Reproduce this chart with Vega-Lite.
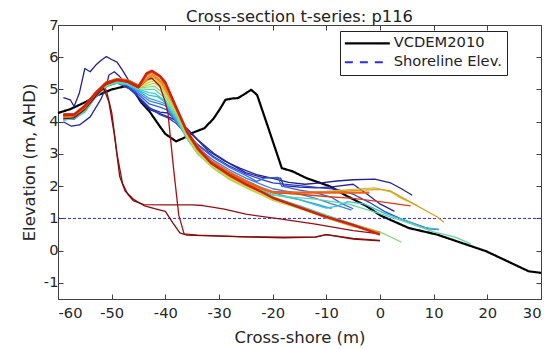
{
"$schema":"https://vega.github.io/schema/vega-lite/v6.json",
"width":483,"height":274,
"autosize":{"type":"none"},
"padding":{"left":58,"top":25,"right":11,"bottom":50},
"background":"white",
"title":{"text":"Cross-section t-series: p116","font":"DejaVu Sans","fontSize":16.3,"fontWeight":"normal","color":"#222222","anchor":"middle","offset":-8},
"config":{
 "view":{"stroke":"#404040","strokeWidth":1},
 "axis":{"labelFont":"DejaVu Sans","labelFontSize":14.7,"labelColor":"#262626","titleFont":"DejaVu Sans","titleFontSize":16.5,"titleFontWeight":"normal","titleColor":"#262626","tickColor":"#404040","tickSize":-5,"domain":false,"grid":false,"labelPadding":6},
 "legend":{"labelFont":"DejaVu Sans","labelFontSize":14.7,"labelColor":"#222222","orient":"none","legendX":282,"legendY":6,"strokeColor":"#222222","fillColor":"white","padding":5,"symbolSize":225,"labelOffset":34,"rowPadding":3}
},
"datasets":{
"ref":[
{"s":"VCDEM2010","x":-60,"y":4.27},{"s":"VCDEM2010","x":-57.7,"y":4.39},{"s":"VCDEM2010","x":-55,"y":4.6},{"s":"VCDEM2010","x":-52.5,"y":4.83},{"s":"VCDEM2010","x":-50,"y":5.0},{"s":"VCDEM2010","x":-47.5,"y":5.1},{"s":"VCDEM2010","x":-46,"y":5.0},{"s":"VCDEM2010","x":-44.5,"y":4.6},{"s":"VCDEM2010","x":-43,"y":4.33},{"s":"VCDEM2010","x":-41,"y":3.85},{"s":"VCDEM2010","x":-40,"y":3.62},{"s":"VCDEM2010","x":-38,"y":3.39},{"s":"VCDEM2010","x":-36.5,"y":3.5},{"s":"VCDEM2010","x":-35,"y":3.65},{"s":"VCDEM2010","x":-32.7,"y":3.8},{"s":"VCDEM2010","x":-31,"y":4.1},{"s":"VCDEM2010","x":-29.8,"y":4.4},{"s":"VCDEM2010","x":-28.8,"y":4.68},{"s":"VCDEM2010","x":-27.5,"y":4.72},{"s":"VCDEM2010","x":-26.5,"y":4.73},{"s":"VCDEM2010","x":-25.5,"y":4.83},{"s":"VCDEM2010","x":-24,"y":4.99},{"s":"VCDEM2010","x":-22.9,"y":4.83},{"s":"VCDEM2010","x":-20.9,"y":3.85},{"s":"VCDEM2010","x":-18.3,"y":2.56},{"s":"VCDEM2010","x":-16.3,"y":2.46},{"s":"VCDEM2010","x":-13.7,"y":2.25},{"s":"VCDEM2010","x":-9.4,"y":2.0},{"s":"VCDEM2010","x":-6.1,"y":1.69},{"s":"VCDEM2010","x":-2.5,"y":1.38},{"s":"VCDEM2010","x":0.1,"y":1.09},{"s":"VCDEM2010","x":5.4,"y":0.7},{"s":"VCDEM2010","x":10.6,"y":0.5},{"s":"VCDEM2010","x":15.2,"y":0.24},{"s":"VCDEM2010","x":19.8,"y":-0.02},{"s":"VCDEM2010","x":24.4,"y":-0.38},{"s":"VCDEM2010","x":27.7,"y":-0.64},{"s":"VCDEM2010","x":30,"y":-0.69},
{"s":"Shoreline Elev.","x":-60,"y":1},{"s":"Shoreline Elev.","x":30,"y":1}
],
"prof":[
{"s":"p01","x":-59,"y":4.75},{"s":"p01","x":-57.7,"y":4.68},{"s":"p01","x":-57,"y":4.47},{"s":"p01","x":-56,"y":4.9},{"s":"p01","x":-55,"y":5.65},{"s":"p01","x":-54,"y":5.55},{"s":"p01","x":-53,"y":5.75},{"s":"p01","x":-52,"y":5.9},{"s":"p01","x":-51,"y":6.02},{"s":"p01","x":-50,"y":5.93},{"s":"p01","x":-49,"y":5.85},{"s":"p01","x":-48,"y":5.6},{"s":"p01","x":-46,"y":5.05},{"s":"p01","x":-44.5,"y":4.62},{"s":"p01","x":-43,"y":4.38},{"s":"p01","x":-41,"y":4.25},{"s":"p01","x":-39,"y":4.12},{"s":"p01","x":-37,"y":3.95},{"s":"p01","x":-35,"y":3.6},{"s":"p01","x":-32,"y":3.1},{"s":"p01","x":-29,"y":2.78},{"s":"p01","x":-26,"y":2.55},{"s":"p01","x":-23,"y":2.36},{"s":"p01","x":-20,"y":2.24},{"s":"p01","x":-17,"y":2.12},{"s":"p01","x":-14,"y":2.06},{"s":"p01","x":-11,"y":2.1},{"s":"p01","x":-8,"y":2.16},{"s":"p01","x":-5,"y":2.2},{"s":"p01","x":-1,"y":2.22},{"s":"p01","x":2,"y":2.1},{"s":"p01","x":4,"y":1.92},{"s":"p01","x":6,"y":1.72},
{"s":"p02","x":-59,"y":4.0},{"s":"p02","x":-57.5,"y":3.86},{"s":"p02","x":-56,"y":3.9},{"s":"p02","x":-54,"y":4.15},{"s":"p02","x":-52,"y":4.7},{"s":"p02","x":-51,"y":5.1},{"s":"p02","x":-50.5,"y":5.45},{"s":"p02","x":-49.5,"y":5.55},{"s":"p02","x":-48.5,"y":5.4},{"s":"p02","x":-47,"y":5.1},{"s":"p02","x":-45,"y":4.75},{"s":"p02","x":-43,"y":4.42},{"s":"p02","x":-41,"y":4.3},{"s":"p02","x":-39.5,"y":4.27},{"s":"p02","x":-38,"y":4.05},{"s":"p02","x":-36,"y":3.8},{"s":"p02","x":-34,"y":3.45},{"s":"p02","x":-31,"y":3.02},{"s":"p02","x":-28,"y":2.7},{"s":"p02","x":-25,"y":2.42},{"s":"p02","x":-22,"y":2.27},{"s":"p02","x":-20,"y":2.26},{"s":"p02","x":-18.5,"y":2.25},{"s":"p02","x":-18,"y":2.02},{"s":"p02","x":-15,"y":1.97},{"s":"p02","x":-12,"y":1.95},{"s":"p02","x":-9,"y":1.98},{"s":"p02","x":-5,"y":2.06},{"s":"p02","x":-2,"y":1.7},{"s":"p02","x":0,"y":1.45},{"s":"p02","x":2.7,"y":1.22},
{"s":"p03","x":-59,"y":4.1},{"s":"p03","x":-57,"y":4.08},{"s":"p03","x":-55,"y":4.35},{"s":"p03","x":-53,"y":4.8},{"s":"p03","x":-51,"y":5.12},{"s":"p03","x":-49,"y":5.2},{"s":"p03","x":-47,"y":5.05},{"s":"p03","x":-45,"y":4.78},{"s":"p03","x":-43,"y":4.45},{"s":"p03","x":-41,"y":4.22},{"s":"p03","x":-39.5,"y":4.12},{"s":"p03","x":-38,"y":3.95},{"s":"p03","x":-36,"y":3.6},{"s":"p03","x":-34,"y":3.3},{"s":"p03","x":-31,"y":2.92},{"s":"p03","x":-28,"y":2.62},{"s":"p03","x":-25,"y":2.38},{"s":"p03","x":-22,"y":2.2},{"s":"p03","x":-20,"y":2.1},{"s":"p03","x":-17,"y":2.05},{"s":"p03","x":-14,"y":2.0},{"s":"p03","x":-11,"y":1.95},{"s":"p03","x":-8,"y":1.9},{"s":"p03","x":-5,"y":1.75},{"s":"p03","x":-2,"y":1.5},{"s":"p03","x":1,"y":1.2},{"s":"p03","x":4,"y":0.98},{"s":"p03","x":7,"y":0.8},{"s":"p03","x":9,"y":0.68},{"s":"p03","x":11,"y":0.65},
{"s":"p04","x":-59,"y":4.2},{"s":"p04","x":-57,"y":4.12},{"s":"p04","x":-55,"y":4.4},{"s":"p04","x":-53,"y":4.88},{"s":"p04","x":-51,"y":5.18},{"s":"p04","x":-49,"y":5.25},{"s":"p04","x":-47,"y":5.1},{"s":"p04","x":-45,"y":4.85},{"s":"p04","x":-43,"y":4.55},{"s":"p04","x":-41,"y":4.45},{"s":"p04","x":-39.5,"y":4.35},{"s":"p04","x":-38,"y":4.02},{"s":"p04","x":-36,"y":3.62},{"s":"p04","x":-34,"y":3.28},{"s":"p04","x":-31,"y":2.88},{"s":"p04","x":-28,"y":2.58},{"s":"p04","x":-25,"y":2.33},{"s":"p04","x":-23,"y":2.15},{"s":"p04","x":-21.5,"y":2.25},{"s":"p04","x":-19,"y":2.27},{"s":"p04","x":-18.3,"y":2.0},{"s":"p04","x":-15,"y":1.88},{"s":"p04","x":-12,"y":1.8},{"s":"p04","x":-9,"y":1.65},{"s":"p04","x":-7,"y":1.45},{"s":"p04","x":-5,"y":1.3},
{"s":"p05","x":-59,"y":4.15},{"s":"p05","x":-57,"y":4.1},{"s":"p05","x":-55,"y":4.35},{"s":"p05","x":-53,"y":4.85},{"s":"p05","x":-51,"y":5.15},{"s":"p05","x":-49,"y":5.25},{"s":"p05","x":-47,"y":5.15},{"s":"p05","x":-45,"y":4.9},{"s":"p05","x":-43,"y":4.65},{"s":"p05","x":-41,"y":4.55},{"s":"p05","x":-40,"y":4.5},{"s":"p05","x":-38,"y":4.0},{"s":"p05","x":-36,"y":3.55},{"s":"p05","x":-34,"y":3.2},{"s":"p05","x":-31,"y":2.8},{"s":"p05","x":-28,"y":2.5},{"s":"p05","x":-25,"y":2.25},{"s":"p05","x":-22,"y":2.05},{"s":"p05","x":-20,"y":1.92},{"s":"p05","x":-16,"y":1.8},{"s":"p05","x":-12,"y":1.62},{"s":"p05","x":-9,"y":1.45},{"s":"p05","x":-7,"y":1.35},{"s":"p05","x":-5.3,"y":1.26},
{"s":"p06","x":-59,"y":4.05},{"s":"p06","x":-57,"y":4.1},{"s":"p06","x":-55,"y":4.3},{"s":"p06","x":-53,"y":4.8},{"s":"p06","x":-51,"y":5.12},{"s":"p06","x":-49,"y":5.22},{"s":"p06","x":-47,"y":5.15},{"s":"p06","x":-45,"y":4.95},{"s":"p06","x":-43,"y":4.72},{"s":"p06","x":-41.5,"y":4.65},{"s":"p06","x":-40,"y":4.55},{"s":"p06","x":-38,"y":4.05},{"s":"p06","x":-36,"y":3.5},{"s":"p06","x":-34,"y":3.12},{"s":"p06","x":-31,"y":2.72},{"s":"p06","x":-28,"y":2.42},{"s":"p06","x":-25,"y":2.18},{"s":"p06","x":-22,"y":1.95},{"s":"p06","x":-20,"y":1.8},{"s":"p06","x":-16,"y":1.62},{"s":"p06","x":-12,"y":1.45},{"s":"p06","x":-9,"y":1.3},
{"s":"p07","x":-59,"y":4.1},{"s":"p07","x":-57,"y":4.12},{"s":"p07","x":-55,"y":4.32},{"s":"p07","x":-53,"y":4.78},{"s":"p07","x":-51,"y":5.1},{"s":"p07","x":-49,"y":5.2},{"s":"p07","x":-47,"y":5.15},{"s":"p07","x":-45,"y":4.98},{"s":"p07","x":-43,"y":4.82},{"s":"p07","x":-41.5,"y":4.78},{"s":"p07","x":-40,"y":4.6},{"s":"p07","x":-38,"y":4.1},{"s":"p07","x":-36,"y":3.5},{"s":"p07","x":-34,"y":3.08},{"s":"p07","x":-31,"y":2.68},{"s":"p07","x":-28,"y":2.38},{"s":"p07","x":-25,"y":2.12},{"s":"p07","x":-22,"y":1.88},{"s":"p07","x":-20,"y":1.74},{"s":"p07","x":-15,"y":1.58},{"s":"p07","x":-12,"y":1.42},{"s":"p07","x":-10,"y":1.32},{"s":"p07","x":-8,"y":1.38},{"s":"p07","x":-6,"y":1.52},{"s":"p07","x":-3,"y":1.45},{"s":"p07","x":1,"y":1.15},{"s":"p07","x":5,"y":0.92},{"s":"p07","x":8,"y":0.72},{"s":"p07","x":11,"y":0.66},
{"s":"p08","x":-59,"y":4.05},{"s":"p08","x":-57,"y":4.1},{"s":"p08","x":-55,"y":4.3},{"s":"p08","x":-53,"y":4.75},{"s":"p08","x":-51,"y":5.08},{"s":"p08","x":-49,"y":5.2},{"s":"p08","x":-47,"y":5.15},{"s":"p08","x":-45,"y":5.0},{"s":"p08","x":-43,"y":4.9},{"s":"p08","x":-42,"y":4.88},{"s":"p08","x":-40.5,"y":4.7},{"s":"p08","x":-38,"y":4.15},{"s":"p08","x":-36,"y":3.48},{"s":"p08","x":-34,"y":3.02},{"s":"p08","x":-31,"y":2.6},{"s":"p08","x":-28,"y":2.3},{"s":"p08","x":-25,"y":2.05},{"s":"p08","x":-22,"y":1.82},{"s":"p08","x":-20,"y":1.66},{"s":"p08","x":-15,"y":1.4},{"s":"p08","x":-10,"y":1.1},{"s":"p08","x":-5,"y":0.82},{"s":"p08","x":-1,"y":0.62},
{"s":"p09","x":-59,"y":4.1},{"s":"p09","x":-57,"y":4.15},{"s":"p09","x":-55,"y":4.35},{"s":"p09","x":-53,"y":4.8},{"s":"p09","x":-51,"y":5.1},{"s":"p09","x":-49,"y":5.25},{"s":"p09","x":-47,"y":5.18},{"s":"p09","x":-45,"y":5.02},{"s":"p09","x":-43,"y":5.0},{"s":"p09","x":-42,"y":5.0},{"s":"p09","x":-40.5,"y":4.8},{"s":"p09","x":-38,"y":4.2},{"s":"p09","x":-36,"y":3.5},{"s":"p09","x":-34,"y":3.02},{"s":"p09","x":-31,"y":2.6},{"s":"p09","x":-28,"y":2.28},{"s":"p09","x":-25,"y":2.02},{"s":"p09","x":-22,"y":1.82},{"s":"p09","x":-20,"y":1.72},{"s":"p09","x":-16,"y":1.65},{"s":"p09","x":-12,"y":1.6},{"s":"p09","x":-6,"y":1.45},{"s":"p09","x":0,"y":1.15},{"s":"p09","x":5,"y":0.88},{"s":"p09","x":10,"y":0.58},{"s":"p09","x":14,"y":0.42},{"s":"p09","x":17,"y":0.2},
{"s":"p10","x":-59,"y":4.12},{"s":"p10","x":-57,"y":4.15},{"s":"p10","x":-55,"y":4.38},{"s":"p10","x":-53,"y":4.8},{"s":"p10","x":-51,"y":5.12},{"s":"p10","x":-49,"y":5.25},{"s":"p10","x":-47,"y":5.2},{"s":"p10","x":-45,"y":5.05},{"s":"p10","x":-43,"y":5.08},{"s":"p10","x":-42,"y":5.1},{"s":"p10","x":-40.5,"y":4.9},{"s":"p10","x":-38,"y":4.25},{"s":"p10","x":-36,"y":3.52},{"s":"p10","x":-34,"y":3.0},{"s":"p10","x":-31,"y":2.55},{"s":"p10","x":-28,"y":2.22},{"s":"p10","x":-25,"y":1.98},{"s":"p10","x":-22,"y":1.76},{"s":"p10","x":-20,"y":1.6},{"s":"p10","x":-15,"y":1.35},{"s":"p10","x":-10,"y":1.08},{"s":"p10","x":-5,"y":0.82},{"s":"p10","x":0,"y":0.58},{"s":"p10","x":4,"y":0.26},
{"s":"p11","x":-59,"y":4.15},{"s":"p11","x":-57,"y":4.18},{"s":"p11","x":-55,"y":4.4},{"s":"p11","x":-53,"y":4.82},{"s":"p11","x":-51,"y":5.15},{"s":"p11","x":-49,"y":5.28},{"s":"p11","x":-47,"y":5.22},{"s":"p11","x":-45,"y":5.05},{"s":"p11","x":-43,"y":5.15},{"s":"p11","x":-42,"y":5.2},{"s":"p11","x":-40.5,"y":5.0},{"s":"p11","x":-38,"y":4.3},{"s":"p11","x":-36,"y":3.55},{"s":"p11","x":-34,"y":3.02},{"s":"p11","x":-31,"y":2.55},{"s":"p11","x":-28,"y":2.2},{"s":"p11","x":-25,"y":1.95},{"s":"p11","x":-22,"y":1.72},{"s":"p11","x":-20,"y":1.56},{"s":"p11","x":-15,"y":1.3},{"s":"p11","x":-10,"y":1.02},{"s":"p11","x":-5,"y":0.77},{"s":"p11","x":0,"y":0.52},
{"s":"p12","x":-59,"y":4.12},{"s":"p12","x":-57,"y":4.18},{"s":"p12","x":-55,"y":4.42},{"s":"p12","x":-53,"y":4.85},{"s":"p12","x":-51,"y":5.15},{"s":"p12","x":-49,"y":5.3},{"s":"p12","x":-47,"y":5.25},{"s":"p12","x":-45,"y":5.08},{"s":"p12","x":-43,"y":5.22},{"s":"p12","x":-42,"y":5.28},{"s":"p12","x":-40.5,"y":5.05},{"s":"p12","x":-38,"y":4.35},{"s":"p12","x":-36,"y":3.6},{"s":"p12","x":-34,"y":3.05},{"s":"p12","x":-31,"y":2.6},{"s":"p12","x":-28,"y":2.25},{"s":"p12","x":-25,"y":1.98},{"s":"p12","x":-22,"y":1.75},{"s":"p12","x":-20,"y":1.6},{"s":"p12","x":-15,"y":1.36},{"s":"p12","x":-10,"y":1.06},{"s":"p12","x":-5,"y":0.8},{"s":"p12","x":-1,"y":0.62},
{"s":"p13","x":-59,"y":4.2},{"s":"p13","x":-57,"y":4.2},{"s":"p13","x":-55,"y":4.45},{"s":"p13","x":-53,"y":4.88},{"s":"p13","x":-51,"y":5.18},{"s":"p13","x":-49,"y":5.32},{"s":"p13","x":-47,"y":5.28},{"s":"p13","x":-45,"y":5.1},{"s":"p13","x":-43,"y":5.3},{"s":"p13","x":-42,"y":5.35},{"s":"p13","x":-40.5,"y":5.1},{"s":"p13","x":-38,"y":4.4},{"s":"p13","x":-36,"y":3.65},{"s":"p13","x":-34,"y":3.15},{"s":"p13","x":-31,"y":2.7},{"s":"p13","x":-28,"y":2.38},{"s":"p13","x":-25,"y":2.1},{"s":"p13","x":-22,"y":1.9},{"s":"p13","x":-20,"y":1.8},{"s":"p13","x":-15,"y":1.8},{"s":"p13","x":-10,"y":1.84},{"s":"p13","x":-5,"y":1.9},{"s":"p13","x":-1,"y":1.95},{"s":"p13","x":2,"y":1.82},{"s":"p13","x":4,"y":1.62},{"s":"p13","x":7,"y":1.4},
{"s":"p14","x":-59,"y":4.2},{"s":"p14","x":-57,"y":4.22},{"s":"p14","x":-55,"y":4.48},{"s":"p14","x":-53,"y":4.9},{"s":"p14","x":-51,"y":5.2},{"s":"p14","x":-49,"y":5.32},{"s":"p14","x":-47,"y":5.28},{"s":"p14","x":-45,"y":5.12},{"s":"p14","x":-43,"y":5.35},{"s":"p14","x":-42,"y":5.4},{"s":"p14","x":-40.5,"y":5.15},{"s":"p14","x":-38,"y":4.42},{"s":"p14","x":-36,"y":3.68},{"s":"p14","x":-34,"y":3.18},{"s":"p14","x":-31,"y":2.72},{"s":"p14","x":-28,"y":2.4},{"s":"p14","x":-25,"y":2.12},{"s":"p14","x":-22,"y":1.92},{"s":"p14","x":-20,"y":1.82},{"s":"p14","x":-15,"y":1.8},{"s":"p14","x":-10,"y":1.82},{"s":"p14","x":-5,"y":1.86},{"s":"p14","x":0,"y":1.9},{"s":"p14","x":2,"y":1.85},{"s":"p14","x":4,"y":1.66},{"s":"p14","x":6.6,"y":1.42},{"s":"p14","x":9,"y":1.2},{"s":"p14","x":10.6,"y":1.05},{"s":"p14","x":11.9,"y":0.88},
{"s":"p15","x":-59,"y":4.15},{"s":"p15","x":-57,"y":4.2},{"s":"p15","x":-55,"y":4.45},{"s":"p15","x":-53,"y":4.88},{"s":"p15","x":-51,"y":5.2},{"s":"p15","x":-49,"y":5.32},{"s":"p15","x":-47,"y":5.28},{"s":"p15","x":-45,"y":5.1},{"s":"p15","x":-43,"y":5.4},{"s":"p15","x":-42.3,"y":5.45},{"s":"p15","x":-40.5,"y":5.2},{"s":"p15","x":-38,"y":4.42},{"s":"p15","x":-36,"y":3.68},{"s":"p15","x":-34,"y":3.15},{"s":"p15","x":-31,"y":2.68},{"s":"p15","x":-28,"y":2.32},{"s":"p15","x":-25,"y":2.05},{"s":"p15","x":-22,"y":1.82},{"s":"p15","x":-20,"y":1.65},{"s":"p15","x":-15,"y":1.34},{"s":"p15","x":-10,"y":1.03},{"s":"p15","x":-5,"y":0.77},{"s":"p15","x":0,"y":0.55},
{"s":"p16","x":-59,"y":4.2},{"s":"p16","x":-57,"y":4.22},{"s":"p16","x":-55,"y":4.5},{"s":"p16","x":-53,"y":4.9},{"s":"p16","x":-51,"y":5.22},{"s":"p16","x":-49,"y":5.32},{"s":"p16","x":-47,"y":5.28},{"s":"p16","x":-45,"y":5.12},{"s":"p16","x":-43.5,"y":5.45},{"s":"p16","x":-42.5,"y":5.55},{"s":"p16","x":-41,"y":5.4},{"s":"p16","x":-40,"y":5.2},{"s":"p16","x":-38,"y":4.45},{"s":"p16","x":-36,"y":3.72},{"s":"p16","x":-34,"y":3.22},{"s":"p16","x":-31.5,"y":2.78},{"s":"p16","x":-28,"y":2.42},{"s":"p16","x":-25,"y":2.15},{"s":"p16","x":-22,"y":1.93},{"s":"p16","x":-20,"y":1.82},{"s":"p16","x":-15,"y":1.8},{"s":"p16","x":-10,"y":1.8},{"s":"p16","x":-5,"y":1.8},{"s":"p16","x":-2,"y":1.8},
{"s":"p17","x":-59,"y":4.25},{"s":"p17","x":-57,"y":4.25},{"s":"p17","x":-55,"y":4.5},{"s":"p17","x":-53,"y":4.9},{"s":"p17","x":-51,"y":5.2},{"s":"p17","x":-49,"y":5.3},{"s":"p17","x":-47,"y":5.25},{"s":"p17","x":-45,"y":5.1},{"s":"p17","x":-43.5,"y":5.45},{"s":"p17","x":-42.5,"y":5.55},{"s":"p17","x":-41,"y":5.38},{"s":"p17","x":-40,"y":5.15},{"s":"p17","x":-38,"y":4.4},{"s":"p17","x":-36,"y":3.7},{"s":"p17","x":-34,"y":3.2},{"s":"p17","x":-31.5,"y":2.76},{"s":"p17","x":-28,"y":2.4},{"s":"p17","x":-25,"y":2.13},{"s":"p17","x":-22,"y":1.92},{"s":"p17","x":-20,"y":1.8},{"s":"p17","x":-15,"y":1.75},{"s":"p17","x":-10,"y":1.68},{"s":"p17","x":-5,"y":1.62},{"s":"p17","x":0,"y":1.52},{"s":"p17","x":3,"y":1.45},{"s":"p17","x":5.7,"y":1.39},
{"s":"p18","x":-59,"y":4.2},{"s":"p18","x":-57,"y":4.22},{"s":"p18","x":-55,"y":4.48},{"s":"p18","x":-53,"y":4.88},{"s":"p18","x":-51,"y":5.2},{"s":"p18","x":-49,"y":5.3},{"s":"p18","x":-47,"y":5.25},{"s":"p18","x":-45,"y":5.08},{"s":"p18","x":-43.5,"y":5.5},{"s":"p18","x":-42.5,"y":5.58},{"s":"p18","x":-41,"y":5.42},{"s":"p18","x":-40,"y":5.22},{"s":"p18","x":-38,"y":4.45},{"s":"p18","x":-36,"y":3.7},{"s":"p18","x":-34,"y":3.18},{"s":"p18","x":-31.5,"y":2.72},{"s":"p18","x":-28,"y":2.34},{"s":"p18","x":-25,"y":2.06},{"s":"p18","x":-22,"y":1.82},{"s":"p18","x":-20,"y":1.64},{"s":"p18","x":-15,"y":1.34},{"s":"p18","x":-10,"y":1.05},{"s":"p18","x":-5,"y":0.8},{"s":"p18","x":0,"y":0.5},
{"s":"p19","x":-59,"y":4.22},{"s":"p19","x":-57,"y":4.2},{"s":"p19","x":-55,"y":4.45},{"s":"p19","x":-53,"y":4.85},{"s":"p19","x":-51,"y":5.15},{"s":"p19","x":-49,"y":5.28},{"s":"p19","x":-47,"y":5.22},{"s":"p19","x":-45,"y":5.05},{"s":"p19","x":-43.5,"y":5.3},{"s":"p19","x":-42.5,"y":5.35},{"s":"p19","x":-41,"y":5.1},{"s":"p19","x":-40,"y":4.6},{"s":"p19","x":-39.5,"y":4.25},{"s":"p19","x":-38.5,"y":2.6},{"s":"p19","x":-37.5,"y":1.1},{"s":"p19","x":-36.5,"y":0.52},{"s":"p19","x":-34,"y":0.48},{"s":"p19","x":-30,"y":0.46},{"s":"p19","x":-25,"y":0.43},{"s":"p19","x":-20,"y":0.42},{"s":"p19","x":-12,"y":0.43},{"s":"p19","x":-10,"y":0.5},{"s":"p19","x":-8,"y":0.45},{"s":"p19","x":-5,"y":0.38},{"s":"p19","x":0,"y":0.32},
{"s":"p20","x":-59,"y":4.2},{"s":"p20","x":-57,"y":4.15},{"s":"p20","x":-55,"y":4.4},{"s":"p20","x":-53,"y":4.8},{"s":"p20","x":-52,"y":5.0},{"s":"p20","x":-51,"y":4.98},{"s":"p20","x":-50,"y":4.3},{"s":"p20","x":-49,"y":3.0},{"s":"p20","x":-48,"y":2.1},{"s":"p20","x":-47,"y":1.75},{"s":"p20","x":-46,"y":1.55},{"s":"p20","x":-44,"y":1.43},{"s":"p20","x":-40,"y":1.42},{"s":"p20","x":-35,"y":1.42},{"s":"p20","x":-33,"y":1.4},{"s":"p20","x":-29,"y":1.29},{"s":"p20","x":-25,"y":1.13},{"s":"p20","x":-18,"y":0.97},{"s":"p20","x":-12,"y":0.82},{"s":"p20","x":-5,"y":0.62},{"s":"p20","x":0,"y":0.52},
{"s":"p21","x":-59,"y":4.1},{"s":"p21","x":-57,"y":4.12},{"s":"p21","x":-55,"y":4.38},{"s":"p21","x":-53,"y":4.78},{"s":"p21","x":-51.5,"y":5.05},{"s":"p21","x":-50.5,"y":4.6},{"s":"p21","x":-49.5,"y":3.6},{"s":"p21","x":-48.5,"y":2.3},{"s":"p21","x":-47.5,"y":1.85},{"s":"p21","x":-46,"y":1.6},{"s":"p21","x":-44,"y":1.4},{"s":"p21","x":-42,"y":1.3},{"s":"p21","x":-40,"y":1.22},{"s":"p21","x":-38.6,"y":0.86},{"s":"p21","x":-37.3,"y":0.55},{"s":"p21","x":-36,"y":0.48},{"s":"p21","x":-30,"y":0.45},{"s":"p21","x":-25,"y":0.43},{"s":"p21","x":-18,"y":0.4},{"s":"p21","x":-12,"y":0.42},{"s":"p21","x":-10,"y":0.5},{"s":"p21","x":-8,"y":0.44},{"s":"p21","x":-5,"y":0.36},{"s":"p21","x":0,"y":0.3}
]},
"layer":[
{"data":{"name":"ref"},
 "mark":{"type":"line","strokeJoin":"round"},
 "encoding":{
  "x":{"field":"x","type":"quantitative","scale":{"domain":[-60,30],"nice":false,"zero":false},"axis":{"values":[-60,-50,-40,-30,-20,-10,0,10,20,30],"labelExpr":"'' + datum.value","title":"Cross-shore (m)","labelPadding":11,"titlePadding":10}},
  "y":{"field":"y","type":"quantitative","scale":{"domain":[-1.5,7],"nice":false,"zero":false},"axis":{"values":[-1,0,1,2,3,4,5,6,7],"labelExpr":"'' + datum.value","title":"Elevation (m, AHD)","labelPadding":5,"titlePadding":6}},
  "color":{"field":"s","type":"nominal","scale":{"domain":["VCDEM2010","Shoreline Elev."],"range":["#000000","#2b2bea"]},
   "legend":{"title":null,"symbolType":"M-1,0H5","encode":{"symbols":{"update":{"strokeDash":{"signal":"datum.value === 'Shoreline Elev.' ? [8,7] : [1,0]"},"strokeWidth":{"signal":"datum.value === 'VCDEM2010' ? 2.4 : 2"}}}}}},
  "strokeDash":{"field":"s","type":"nominal","scale":{"domain":["VCDEM2010","Shoreline Elev."],"range":[[1,0],[3,2]]},"legend":null},
  "strokeWidth":{"field":"s","type":"nominal","scale":{"domain":["VCDEM2010","Shoreline Elev."],"range":[2.2,1]},"legend":null}
 }},
{"data":{"name":"prof"},
 "transform":[{"filter":{"field":"s","oneOf":["p01","p02","p03","p04","p05","p06","p07","p08","p09","p10","p11","p12","p13","p14","p17","p19","p20","p21"]}}],
 "mark":{"type":"line","strokeWidth":1.3,"strokeJoin":"round"},
 "encoding":{
  "x":{"field":"x","type":"quantitative","axis":{"orient":"top","labels":false,"title":null,"values":[-60,-50,-40,-30,-20,-10,0,10,20,30]}},
  "y":{"field":"y","type":"quantitative","axis":{"orient":"right","labels":false,"title":null,"values":[-1,0,1,2,3,4,5,6,7]}},
  "color":{"field":"s","type":"nominal","scale":{"domain":["p01","p02","p03","p04","p05","p06","p07","p08","p09","p10","p11","p12","p13","p14","p15","p16","p17","p18","p19","p20","p21"],"range":["#22228c","#2424a8","#2a3fcc","#2f60e0","#3a80e8","#38a0e6","#30c0e0","#40d0c8","#60d8a0","#88d878","#b0d858","#d8d040","#e0b830","#d8a020","#e88a20","#ec6018","#e03a18","#d02010","#a81010","#961010","#800c0c"]},"legend":null}
 }},
{"data":{"name":"prof"},
 "transform":[{"filter":{"field":"s","oneOf":["p15","p16","p18"]}}],
 "mark":{"type":"line","strokeWidth":2.4,"strokeJoin":"round"},
 "encoding":{
  "x":{"field":"x","type":"quantitative","axis":null},
  "y":{"field":"y","type":"quantitative","axis":null},
  "color":{"field":"s","type":"nominal","scale":{"domain":["p01","p02","p03","p04","p05","p06","p07","p08","p09","p10","p11","p12","p13","p14","p15","p16","p17","p18","p19","p20","p21"],"range":["#22228c","#2424a8","#2a3fcc","#2f60e0","#3a80e8","#38a0e6","#30c0e0","#40d0c8","#60d8a0","#88d878","#b0d858","#d8d040","#e0b830","#d8a020","#e88a20","#ec6018","#e03a18","#d02010","#a81010","#961010","#800c0c"]},"legend":null}
 }}
],
"resolve":{"scale":{"color":"independent"},"axis":{"x":"independent","y":"independent"}}
}
